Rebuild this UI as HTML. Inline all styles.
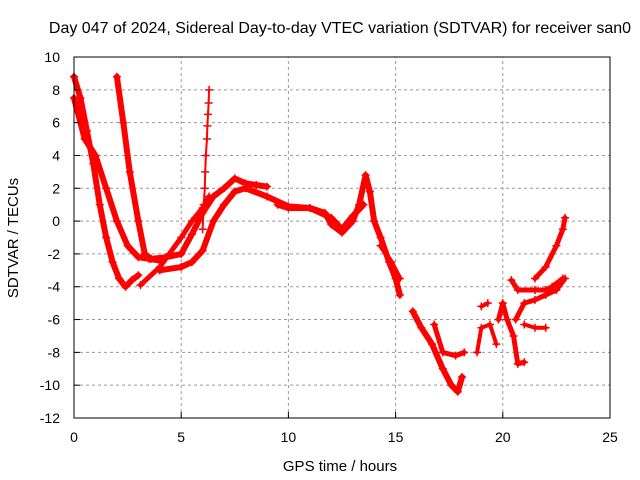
<!DOCTYPE html>
<html><head><meta charset="utf-8"><style>
body{margin:0;background:#fff}
svg{display:block;font-family:"Liberation Sans",sans-serif}
</style></head><body>
<svg id="chart" width="640" height="480">
<rect width="640" height="480" fill="#fff"/>
<g id="grid"></g>
<g id="series"></g>
<rect x="74" y="57" width="536" height="361" fill="none" stroke="#000" stroke-width="1"/>
<g id="axes"></g>
<text x="340" y="33" text-anchor="middle" font-size="16">Day 047 of 2024, Sidereal Day-to-day VTEC variation (SDTVAR) for receiver san0</text>
<text x="340" y="471" text-anchor="middle" font-size="15">GPS time / hours</text>
<text transform="translate(18,238) rotate(-90)" text-anchor="middle" font-size="15">SDTVAR / TECUs</text>
</svg>
<script>
const xTicks=[0,5,10,15,20,25];
const yTicks=[10,8,6,4,2,0,-2,-4,-6,-8,-10,-12];
const trackA=[[0,8.8],[0.3,7.5],[0.6,5.5],[0.9,3.5],[1.2,1],[1.5,-1],[1.8,-2.5],[2.1,-3.5],[2.4,-4],[2.7,-3.6],[3,-3.3]];
const trackB=[[0,7.5],[0.5,5],[1,4],[1.5,2],[2,0],[2.5,-1.5],[3,-2.2],[3.5,-2.3],[4,-2.4]];
const trackC=[[2,8.8],[2.3,6],[2.6,3],[3,0],[3.3,-2],[3.6,-2.3],[4.3,-2.2],[5,-2],[5.5,-0.8],[6,0.5],[6.5,1.5],[7,2],[7.5,2.6],[8,2.3],[8.5,2.2],[9,2.1]];
const trackD=[[3.1,-3.9],[4,-2.8],[5,-1],[5.5,0],[6,0.8],[6.3,1.5]];
const trackE=[[4,-3],[5,-2.8],[5.5,-2.5],[6,-1.8],[6.5,0],[7,1],[7.5,1.8],[8,2],[9,1.5],[10,0.9],[11,0.8],[12,0.2],[12.5,-0.5],[13,0.3],[13.5,1]];
const spike=[[6,-0.5],[6.05,1],[6.1,2],[6.12,3],[6.15,4],[6.2,5],[6.22,5.8],[6.25,6.5],[6.28,7.2],[6.3,8]];
const trackF=[[9.5,1],[10,0.8],[11,0.8],[11.7,0.5],[12,-0.2],[12.5,-0.7],[13,0],[13.3,1],[13.6,2.8],[13.8,1.8],[14,0],[14.3,-1],[14.7,-2.5],[15,-3.5],[15.2,-4.5]];
const trackG=[[15.8,-5.5],[16.2,-6.5],[16.7,-7.5],[17.2,-9],[17.6,-10],[17.9,-10.4],[18.1,-9.5]];
const trackH=[[16.8,-6.3],[17.2,-8],[17.8,-8.2],[18.2,-8]];
const trackI=[[18.8,-8],[19,-6.5],[19.4,-6.3],[19.7,-7.5]];
const trackJ=[[19,-5.2],[19.3,-5]];
const trackK=[[19.8,-6],[20,-5],[20.2,-6],[20.5,-7],[20.7,-8.7],[21,-8.6]];
const trackL=[[20.4,-3.6],[20.7,-4.2],[21.5,-4.2],[22,-4.2],[22.3,-4],[22.8,-3.5]];
const trackM=[[20.6,-6],[21,-5],[21.5,-4.8],[22,-4.5],[22.5,-4.2],[22.9,-3.5]];
const trackN=[[21,-6.3],[21.5,-6.5],[22,-6.5]];
const trackO=[[21.5,-3.5],[22,-2.8],[22.5,-1.5],[22.8,-0.5],[22.9,0.2]];
const trackP=[[14.3,-1.5],[14.8,-2.5],[15.2,-3.5]];

const X0=74,X1=610,Y0=418,Y1=57,XMIN=0,XMAX=25,YMIN=-12,YMAX=10;
const sx=h=>X0+(h-XMIN)/(XMAX-XMIN)*(X1-X0);
const sy=v=>Y0-(v-YMIN)/(YMAX-YMIN)*(Y0-Y1);
const NS="http://www.w3.org/2000/svg";
const mk=(t,a,p)=>{const e=document.createElementNS(NS,t);for(const k in a)e.setAttribute(k,a[k]);p.appendChild(e);return e;};
const grid=document.getElementById('grid'),axes=document.getElementById('axes'),ser=document.getElementById('series');
xTicks.forEach(t=>{
  if(t>XMIN&&t<XMAX){const g=mk('line',{x1:sx(t),x2:sx(t),y1:Y0,y2:Y1,stroke:'#999','stroke-dasharray':'3,3'},grid);
  
  }
  const l=mk('text',{x:sx(t),y:Y0+24,'text-anchor':'middle','font-size':14},axes);l.textContent=t;
  
  
  mk('line',{x1:sx(t),x2:sx(t),y1:Y0,y2:Y0-6,stroke:'#000'},axes);
});
yTicks.forEach(t=>{
  if(t>YMIN&&t<YMAX){const g=mk('line',{x1:X0,x2:X1,y1:sy(t),y2:sy(t),stroke:'#999','stroke-dasharray':'3,3'},grid);
  
  }
  const l=mk('text',{x:X0-14,y:sy(t)+5,'text-anchor':'end','font-size':14},axes);l.textContent=t;
  
  
  mk('line',{x1:X0,x2:X0+6,y1:sy(t),y2:sy(t),stroke:'#000'},axes);
});
const tracks=[[trackA,6],[trackB,6],[trackC,6],[trackD,5],[trackE,6],[spike,2],[trackF,6],[trackG,6],[trackH,5],[trackI,4],[trackJ,4],[trackK,5],[trackL,5],[trackM,5],[trackN,4],[trackO,5],[trackP,5]];
tracks.forEach(([tr,w])=>{
  const pl=mk('polyline',{points:tr.map(p=>sx(p[0])+','+sy(p[1])).join(' '),fill:'none',stroke:'#f00','stroke-width':w,'stroke-linejoin':'round','stroke-linecap':'round'},ser);
  
  
  tr.forEach(p=>{
    const m=mk('path',{d:`M${sx(p[0])-4},${sy(p[1])}h8M${sx(p[0])},${sy(p[1])-4}v8`,stroke:'#f00','stroke-width':1.5},ser);
    
    
  });
});
</script>
</body></html>
